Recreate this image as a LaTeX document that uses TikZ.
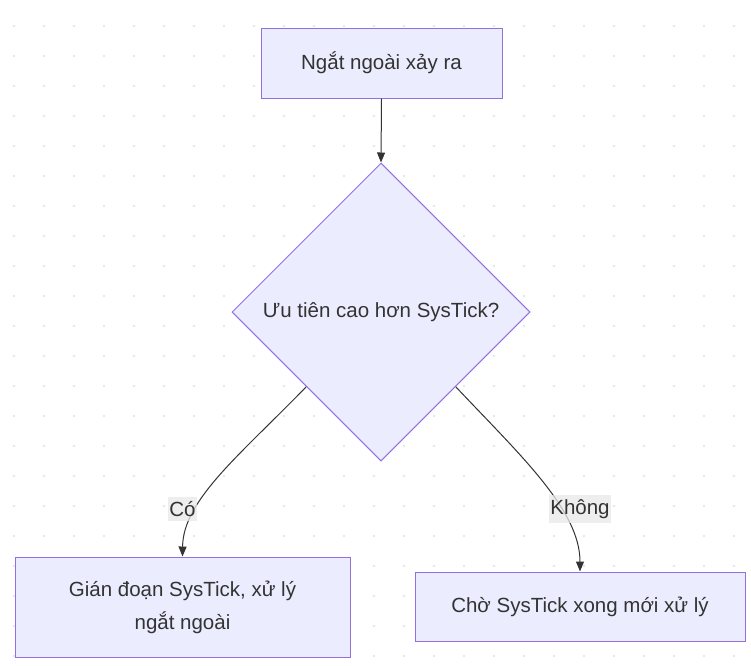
\documentclass[tikz,border=0pt]{standalone}
\usepackage{fontspec}
\setmainfont{Liberation Sans}
\usetikzlibrary{shapes.geometric,arrows.meta,calc}
\definecolor{nodefill}{HTML}{ECECFF}
\definecolor{nodeline}{HTML}{9370DB}
\definecolor{edgecol}{HTML}{333333}
\definecolor{labelbg}{HTML}{E8E8E8}
\definecolor{dotcol}{HTML}{E6E6E6}
\tikzset{
  box/.style={draw=nodeline, fill=nodefill, line width=1pt, inner sep=0pt, text=edgecol, font=\fontsize{20.5}{33}\selectfont, align=center},
  decision/.style={diamond, draw=nodeline, fill=nodefill, line width=1pt, inner sep=0pt, minimum width=298pt, minimum height=298pt, aspect=1, text=edgecol, font=\fontsize{20.5}{33}\selectfont},
  edge/.style={draw=edgecol, line width=1pt, -{Triangle[length=10pt,width=8pt]}},
  elabel/.style={fill=labelbg, fill opacity=0.75, text opacity=1, text=edgecol, inner xsep=1.5pt, inner ysep=4pt, font=\fontsize{20.5}{24}\selectfont}
}
\begin{document}
\begin{tikzpicture}[x=1pt,y=-1pt]
\useasboundingbox (0,0) rectangle (751,665);
\foreach \i in {0,...,24} {
  \foreach \j in {0,...,21} {
    \fill[dotcol] (14+30*\i,26+30*\j) circle (1.3pt);
  }
}
\node[box, minimum width=241pt, minimum height=70pt] (a) at (381.5,63) {Ngắt ngoài xảy ra};
\node[decision] (b) at (381,312) {Ưu tiên cao hơn SysTick?};
\node[box, minimum width=335pt, minimum height=100pt] (c) at (182.5,607) {Gián đoạn SysTick, xử lý\\ngắt ngoài};
\node[box, minimum width=330pt, minimum height=69pt] (d) at (580,606.5) {Chờ SysTick xong mới xử lý};
\coordinate (bl) at ($(b.west)!0.5!(b.south)$);
\coordinate (br) at ($(b.east)!0.5!(b.south)$);
\draw[edge] (a.south) -- (b.north);
\draw[edge] (bl) .. controls (240,455) and (183,500) .. (c.north);
\draw[edge] (br) .. controls (520,455) and (580,510) .. (d.north);
\node[elabel] (l1) at (182.5,509) {Có};
\node[elabel] (l2) at (580,509) {Không};
\end{tikzpicture}
\end{document}
